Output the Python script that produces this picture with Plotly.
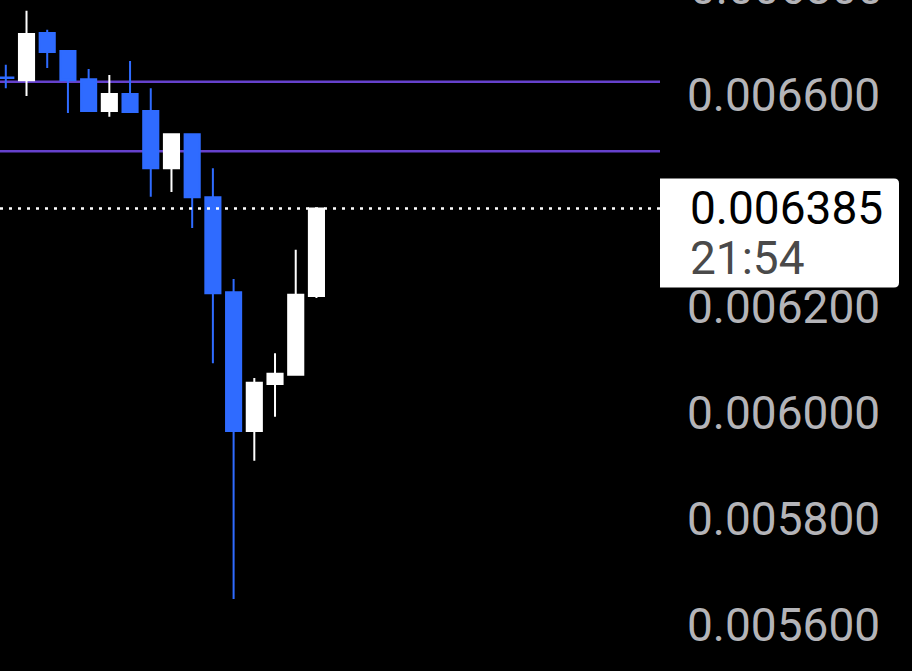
import plotly.graph_objects as go

# ---- data ----
idx = list(range(16))
opens  = [0.006632, 0.006627, 0.006716, 0.006682, 0.006629, 0.006569, 0.006601, 0.006569,
          0.006461, 0.006525, 0.006406, 0.006227, 0.005965, 0.006054, 0.006071, 0.006220]
highs  = [0.006656, 0.006758, 0.006722, 0.006682, 0.006648, 0.006637, 0.006663, 0.006612,
          0.006526, 0.006526, 0.006461, 0.006252, 0.006065, 0.006112, 0.006307, 0.006386]
lows   = [0.006612, 0.006597, 0.006650, 0.006565, 0.006568, 0.006558, 0.006565, 0.006407,
          0.006416, 0.006348, 0.006093, 0.005648, 0.005909, 0.005992, 0.006071, 0.006216]
closes = [0.006631, 0.006714, 0.006680, 0.006627, 0.006569, 0.006601, 0.006567, 0.006461,
          0.006525, 0.006406, 0.006225, 0.005965, 0.006056, 0.006073, 0.006222, 0.006385]

level_lines = [0.006624, 0.006493]
last_price = 0.006385
last_time = "21:54"
# 0.006400 sits behind the price label box in the reference, so it is not shown
tick_vals = [0.0056, 0.0058, 0.0060, 0.0062, 0.0066]
tick_text = ["0.005600", "0.005800", "0.006000", "0.006200", "0.006600"]
top_tick_val = 0.0068
top_tick_text = "0.006800"

Y_RANGE = [0.00551226, 0.00677830]
X_RANGE = [-0.28, 31.59]

BLUE = "#2f6bff"
PURPLE = "#6541cc"
LABEL_GREY = "#b4b4b8"
FONT = "Roboto"
FSIZE = 46

fig = go.Figure()
fig.add_trace(go.Candlestick(
    x=idx, open=opens, high=highs, low=lows, close=closes,
    increasing=dict(fillcolor="#ffffff", line=dict(color="#ffffff", width=2)),
    decreasing=dict(fillcolor=BLUE, line=dict(color=BLUE, width=2)),
    whiskerwidth=0,
    showlegend=False,
    hoverinfo="skip",
))

shapes = []
for lv in level_lines:
    shapes.append(dict(type="line", xref="paper", x0=0, x1=1, yref="y", y0=lv, y1=lv,
                       line=dict(color=PURPLE, width=2.5), layer="below"))
shapes.append(dict(type="line", xref="paper", x0=0, x1=1, yref="y", y0=last_price, y1=last_price,
                   line=dict(color="#ffffff", width=2.5, dash="3px,6px"), layer="above"))
# price label box
shapes.append(dict(type="path", xref="paper", xsizemode="pixel", xanchor=1,
                   yref="y", ysizemode="pixel", yanchor=last_price,
                   path="M0,-79 L234,-79 Q239,-79 239,-74 L239,25 Q239,30 234,30 L0,30 Z",
                   fillcolor="#ffffff", line=dict(width=0), layer="above"))

annotations = [
    dict(xref="paper", x=1, xshift=28, xanchor="left", yref="y", y=last_price, yanchor="middle",
         text=f"{last_price:.6f}", showarrow=False, font=dict(family=FONT, size=FSIZE, color="#000000")),
    dict(xref="paper", x=1, xshift=28, xanchor="left", yref="y", y=last_price, yanchor="middle",
         yshift=-50, text=last_time, showarrow=False, font=dict(family=FONT, size=FSIZE, color="#4a4a4a")),
    # partially visible top tick label above the axis range
    dict(xref="paper", x=1, xshift=28, xanchor="left", yref="paper",
         y=(top_tick_val - Y_RANGE[0]) / (Y_RANGE[1] - Y_RANGE[0]), yanchor="middle",
         text=top_tick_text, showarrow=False, font=dict(family=FONT, size=FSIZE, color=LABEL_GREY)),
]

fig.update_layout(
    width=912, height=671,
    margin=dict(l=0, r=252, t=0, b=0),
    paper_bgcolor="#000000", plot_bgcolor="#000000",
    boxgap=0.27, boxgroupgap=0,
    shapes=shapes, annotations=annotations,
    xaxis=dict(visible=False, range=X_RANGE, rangeslider=dict(visible=False), fixedrange=True),
    yaxis=dict(side="right", range=Y_RANGE, showgrid=False, zeroline=False, showline=False,
               ticks="", tickvals=tick_vals, ticktext=tick_text, ticklabelstandoff=26,
               tickfont=dict(family=FONT, size=FSIZE, color=LABEL_GREY), fixedrange=True),
    showlegend=False,
)

fig.write_html("out.html", config={"displayModeBar": False},
               post_script="document.body.style.margin='0';document.body.style.background='#000';")
